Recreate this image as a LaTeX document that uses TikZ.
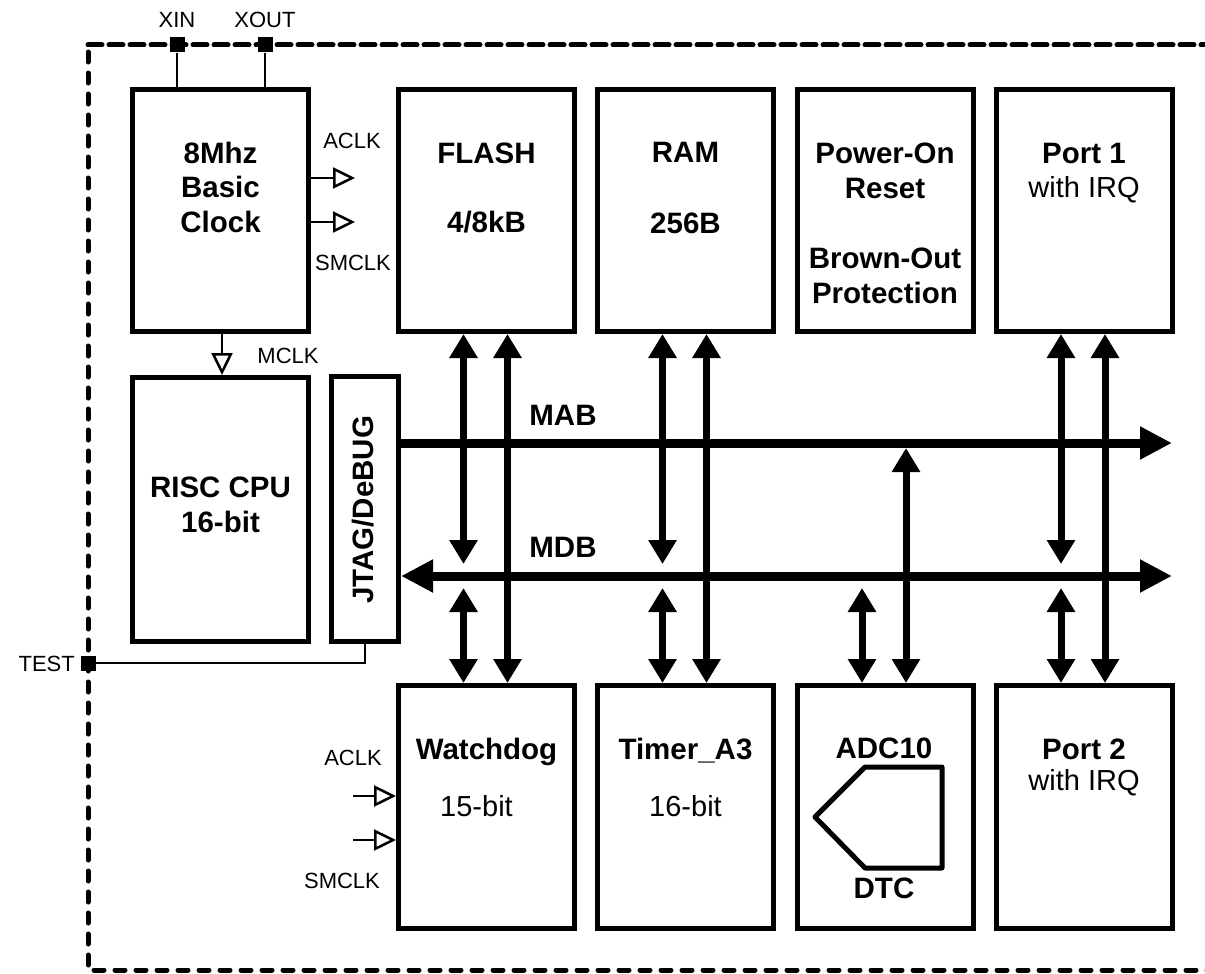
\documentclass[tikz,border=0pt]{standalone}
\usepackage{fontspec}
\setmainfont{Liberation Sans}
\usetikzlibrary{arrows.meta,calc}

\begin{document}
\begin{tikzpicture}[x=1pt,y=-1pt,
  box/.style={draw, line width=5pt, minimum width=176pt, minimum height=242pt, inner sep=0pt},
  big/.style={font=\fontsize{29.5}{32}\selectfont\bfseries, anchor=base, inner sep=0pt},
  reg/.style={font=\fontsize{29}{32}\selectfont, anchor=base, inner sep=0pt},
  sig/.style={font=\fontsize{22}{24}\selectfont, anchor=base, inner sep=0pt},
  pin/.style={fill, minimum size=15pt, inner sep=0pt},
  wire/.style={line width=2.5pt},
  border/.style={line width=5pt, dash pattern=on 10pt off 11pt, line cap=round},
  clk/.style={line width=2.5pt, -{Triangle[open,length=22pt,width=21pt]}},
  bus/.style={line width=9pt},
  bustip/.tip={Triangle[length=32pt,width=31pt]},
  vtip/.tip={Triangle[length=24pt,width=27pt]},
  vlink/.style={line width=7pt, vtip-vtip},
]
\useasboundingbox (0,0) rectangle (1205,974);
\clip (0,0) rectangle (1205,974);

% chip outline
\draw[border] (1215,45) -| (88,970) -- (1215,970);

% blocks
\node[box] (clock) at (220.5,210.5) {};
\node[box, minimum height=264pt] (cpu) at (220.5,509.5) {};
\node[box, minimum width=67pt, minimum height=265pt] (jtag) at (365,509) {};
\node[box] (flash) at (486.5,210.5) {};
\node[box] (ram)   at (685.5,210.5) {};
\node[box] (por)   at (885,210.5) {};
\node[box] (port1) at (1084,210.5) {};
\node[box, minimum height=243pt] (wdt)   at (486.5,807) {};
\node[box, minimum height=243pt] (tmr)   at (685.5,807) {};
\node[box, minimum height=243pt] (adc)   at (885,807) {};
\node[box, minimum height=243pt] (port2) at (1084,807) {};

% block texts
\node[big] (t-clk1) at (220.5,163) {8Mhz};
\node[big] (t-clk2) at (220.5,197) {Basic};
\node[big] (t-clk3) at (220.5,232) {Clock};
\node[big] (t-cpu1) at (220.5,497) {RISC CPU};
\node[big] (t-cpu2) at (220.5,532) {16-bit};
\node[big, anchor=center, rotate=90] (t-jtag) at (363,510) {JTAG/DeBUG};
\node[big] (t-fl1) at (486.5,163) {FLASH};
\node[big] (t-fl2) at (486.5,232) {4/8kB};
\node[big] (t-ram1) at (685.5,162) {RAM};
\node[big] (t-ram2) at (685.5,233) {256B};
\node[big] (t-por1) at (885,163) {Power-On};
\node[big] (t-por2) at (885,198) {Reset};
\node[big] (t-por3) at (885,268) {Brown-Out};
\node[big] (t-por4) at (885,303) {Protection};
\node[big] (t-p1a) at (1084,163) {Port 1};
\node[reg] (t-p1b) at (1084,197) {with IRQ};
\node[big] (t-wd1) at (486.5,759) {Watchdog};
\node[reg] (t-wd2) at (476.5,816) {15-bit};
\node[big] (t-tm1) at (685.5,759) {Timer\_A3};
\node[reg] (t-tm2) at (685.5,816) {16-bit};
\node[big] (t-adc1) at (884,758) {ADC10};
\node[big] (t-adc2) at (884,898) {DTC};
\node[big] (t-p2a) at (1084,759) {Port 2};
\node[reg] (t-p2b) at (1084,790) {with IRQ};

% converter symbol inside ADC10
\draw[line width=5pt, line join=round] (865,767) -- (942,767) -- (942,868) -- (865,868) -- (815,817) -- cycle;

% buses
\coordinate (mabend) at (1172,443);
\coordinate (mdbend) at (1172,576);
\draw[bus, -bustip] (jtag.east |- mabend) -- (mabend);
\draw[bus, bustip-bustip] (jtag.east |- mdbend) -- (mdbend);
\node[big] (t-mab) at (563,425) {MAB};
\node[big] (t-mdb) at (563,557) {MDB};

% bus taps
\coordinate (mdbup) at (0,564);
\coordinate (mdbdn) at (0,588);
\coordinate (mabdn) at (0,448);
\foreach \t/\b in {flash/wdt, ram/tmr, port1/port2}{
  \draw[vlink] ([xshift=-23pt]\t.south) -- ([xshift=-23pt]\t.south |- mdbup);
  \draw[vlink] ([xshift=-23pt]\b.north |- mdbdn) -- ([xshift=-23pt]\b.north);
  \draw[vlink] ([xshift=21pt]\t.south) -- ([xshift=21pt]\b.north);
}
\draw[vlink] ([xshift=-23pt]adc.north |- mdbdn) -- ([xshift=-23pt]adc.north);
\draw[vlink] ([xshift=21pt]adc.north |- mabdn) -- ([xshift=21pt]adc.north);

% external pins
\draw[border] (88,45) -- (1215,45);
\node[pin] (xin)  at (177,45) {};
\node[pin] (xout) at (265,45) {};
\node[pin] (test) at (88,663) {};
\draw[wire] (xin) -- (xin |- clock.north);
\draw[wire] (xout) -- (xout |- clock.north);
\draw[wire] (test) -| (jtag.south);
\node[sig] (l-xin)  at (177,28) {XIN};
\node[sig] (l-xout) at (265,28) {XOUT};
\node[sig, anchor=base east] (l-test) at (75,671) {TEST};

% clock outputs
\coordinate (aclk-o) at (355,178);
\coordinate (smclk-o) at (355,222);
\draw[clk] (clock.east |- aclk-o) -- (aclk-o);
\draw[clk] (clock.east |- smclk-o) -- (smclk-o);
\node[sig] (l-aclk)  at (352,148) {ACLK};
\node[sig] (l-smclk) at (353,270) {SMCLK};
\draw[clk] ([xshift=1.5pt]clock.south) -- ([xshift=1.5pt]cpu.north);
\node[sig] (l-mclk) at (288,363) {MCLK};

% watchdog clock inputs
\coordinate (wd-a) at (353,796);
\coordinate (wd-s) at (353,840);
\draw[clk] (wd-a) -- (wd-a -| wdt.west);
\draw[clk] (wd-s) -- (wd-s -| wdt.west);
\node[sig] (l-wda) at (353,765) {ACLK};
\node[sig] (l-wds) at (342,888) {SMCLK};
\end{tikzpicture}
\end{document}
